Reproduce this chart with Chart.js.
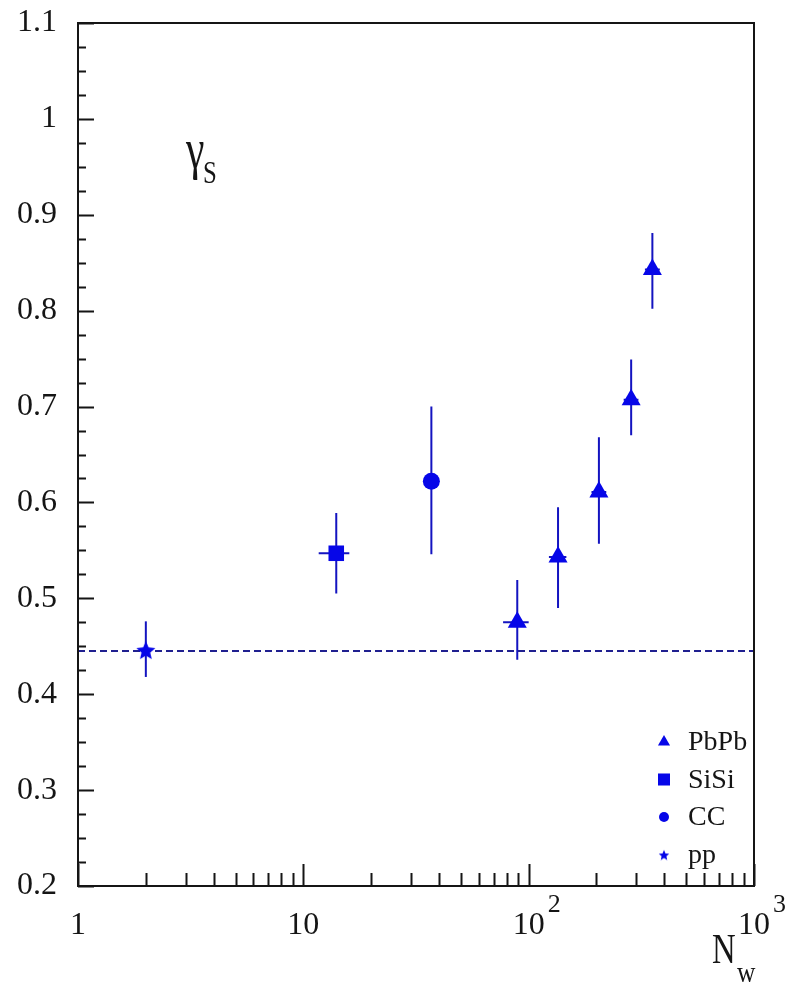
<!DOCTYPE html>
<html>
<head>
<meta charset="utf-8">
<script src="https://cdn.jsdelivr.net/npm/chart.js@4.4.1/dist/chart.umd.min.js"></script>
<style>
  html, body { margin: 0; padding: 0; background: #fff; }
  canvas { display: block; }
</style>
</head>
<body>
<canvas id="chart" width="787" height="984"></canvas>
<script>
// ---- data: strangeness suppression factor gamma_S vs. number of wounded nucleons N_w ----
const pbpbN      = [89, 135, 205, 285, 354];
const pbpbNLo    = [77, 123, 190, 264, 328];
const pbpbNHi    = [100, 147, 221, 307, 382];
const pbpbGamma  = [0.475, 0.543, 0.611, 0.707, 0.843];
const pbpbLo     = [0.436, 0.490, 0.557, 0.670, 0.802];
const pbpbHi     = [0.519, 0.595, 0.668, 0.749, 0.881];

const sisiN      = [14];
const sisiNLo    = [11.7];
const sisiNHi    = [16.0];
const sisiGamma  = [0.547];
const sisiLo     = [0.505];
const sisiHi     = [0.589];

const ccN        = [37];
const ccNLo      = [34];
const ccNHi      = [40];
const ccGamma    = [0.622];
const ccLo       = [0.546];
const ccHi       = [0.700];

const ppN        = [2];
const ppGamma    = [0.446];
const ppLo       = [0.418];
const ppHi       = [0.476];

// pp reference level, drawn across the full N_w range
const refLevel   = 0.445;
const refRangeN  = [1, 1000];

const seriesLabels = ['PbPb', 'SiSi', 'CC', 'pp'];

const yTickValues = [0.2, 0.3, 0.4, 0.5, 0.6, 0.7, 0.8, 0.9, 1.0, 1.1];
const yTickLabels = ['0.2', '0.3', '0.4', '0.5', '0.6', '0.7', '0.8', '0.9', '1', '1.1'];
const xTickValues = [1, 10, 100, 1000];
const xTickBase   = ['1', '10', '10', '10'];
const xTickExp    = ['', '', '2', '3'];

// ---- styling ----
const SERIF = '"Liberation Serif", "Times New Roman", Times, serif';
const MARK = '#0606e8';
const ERR = '#1414c0';
const REF = '#202090';
const INK = '#151515';

// filled five-pointed star used as a point style
function starCanvas(size, outer, inner) {
  const c = document.createElement('canvas');
  c.width = size; c.height = size;
  const g = c.getContext('2d');
  g.fillStyle = MARK;
  g.beginPath();
  for (let k = 0; k < 10; k++) {
    const r = k % 2 === 0 ? outer : inner;
    const a = -Math.PI / 2 + k * Math.PI / 5;
    const px = size / 2 + r * Math.cos(a);
    const py = size / 2 + 1 + r * Math.sin(a);
    if (k === 0) g.moveTo(px, py); else g.lineTo(px, py);
  }
  g.closePath();
  g.fill();
  return c;
}
const starBig = starCanvas(22, 10, 4.6);
const starSmall = starCanvas(12, 5.5, 2.5);

const zip = (xs, ys) => xs.map((x, i) => ({ x: x, y: ys[i] }));

const datasets = [
  { label: seriesLabels[0], data: zip(pbpbN, pbpbGamma), pointStyle: 'triangle', pointRadius: 11,
    yLo: pbpbLo, yHi: pbpbHi, xLo: pbpbNLo, xHi: pbpbNHi, legendRadius: 7 },
  { label: seriesLabels[1], data: zip(sisiN, sisiGamma), pointStyle: 'rect', pointRadius: 11,
    yLo: sisiLo, yHi: sisiHi, xLo: sisiNLo, xHi: sisiNHi, legendRadius: 8.5 },
  { label: seriesLabels[2], data: zip(ccN, ccGamma), pointStyle: 'circle', pointRadius: 8.5,
    yLo: ccLo, yHi: ccHi, xLo: ccNLo, xHi: ccNHi, legendRadius: 5 },
  { label: seriesLabels[3], data: zip(ppN, ppGamma), pointStyle: starBig, pointRadius: 10,
    yLo: ppLo, yHi: ppHi, legendStyle: starSmall, legendRadius: 6 }
].map(ds => Object.assign(ds, {
  type: 'scatter',
  backgroundColor: MARK,
  borderColor: MARK,
  borderWidth: 0,
  pointHoverRadius: ds.pointRadius
}));

datasets.push({
  type: 'line',
  label: 'reference',
  data: refRangeN.map(n => ({ x: n, y: refLevel })),
  borderColor: REF,
  borderWidth: 2,
  borderDash: [7, 4],
  pointRadius: 0,
  fill: false,
  inLegend: false
});

// vertical (and horizontal) error bars, drawn beneath the markers
const errorBars = {
  id: 'errorBars',
  beforeDatasetsDraw(chart) {
    const ctx = chart.ctx, xs = chart.scales.x, ys = chart.scales.y;
    ctx.save();
    ctx.strokeStyle = ERR;
    ctx.lineWidth = 2;
    chart.data.datasets.forEach(ds => {
      if (!ds.yLo) return;
      ds.data.forEach((p, i) => {
        const px = xs.getPixelForValue(p.x);
        const py = ys.getPixelForValue(p.y);
        ctx.beginPath();
        ctx.moveTo(px, ys.getPixelForValue(ds.yLo[i]));
        ctx.lineTo(px, ys.getPixelForValue(ds.yHi[i]));
        if (ds.xLo) {
          ctx.moveTo(xs.getPixelForValue(ds.xLo[i]), py);
          ctx.lineTo(xs.getPixelForValue(ds.xHi[i]), py);
        }
        ctx.stroke();
      });
    });
    ctx.restore();
  }
};

// frame, inward tick marks, exponents, axis / quantity labels and legend
const frameAndText = {
  id: 'frameAndText',
  afterDraw(chart) {
    const ctx = chart.ctx, a = chart.chartArea;
    const xs = chart.scales.x, ys = chart.scales.y;
    ctx.save();
    ctx.strokeStyle = INK;
    ctx.lineWidth = 2;
    ctx.strokeRect(a.left, a.top, a.right - a.left, a.bottom - a.top);

    ctx.beginPath();
    // y ticks: majors every 0.1, minors every 0.025
    for (let k = 0; k <= 36; k++) {
      const v = 0.2 + k * 0.025;
      const py = Math.round(ys.getPixelForValue(v)) + 0.5;
      const len = k % 4 === 0 ? 16 : 8;
      ctx.moveTo(a.left, py);
      ctx.lineTo(a.left + len, py);
    }
    // x ticks: decades and 2..9 within each decade
    for (let d = 0; d < 3; d++) {
      for (let m = 1; m <= 10; m++) {
        const v = m * Math.pow(10, d);
        const px = Math.round(xs.getPixelForValue(v)) + 0.5;
        const len = (m === 1 || m === 10) ? 22 : 13;
        ctx.moveTo(px, a.bottom);
        ctx.lineTo(px, a.bottom - len);
      }
    }
    ctx.stroke();

    ctx.fillStyle = INK;
    // exponents of the decade labels
    ctx.font = '26px ' + SERIF;
    ctx.textAlign = 'left';
    ctx.textBaseline = 'alphabetic';
    xTickValues.forEach((v, i) => {
      if (!xTickExp[i]) return;
      ctx.fillText(xTickExp[i], xs.getPixelForValue(v) + 19, a.bottom + 26);
    });

    // quantity label gamma_S
    ctx.save();
    ctx.translate(a.left + 108, a.top + 145);
    ctx.scale(0.72, 1);
    ctx.font = '58px ' + SERIF;
    ctx.fillText('\u03B3', 0, 0);
    ctx.restore();
    ctx.save();
    ctx.translate(a.left + 125, a.top + 160);
    ctx.scale(0.8, 1);
    ctx.font = '31px ' + SERIF;
    ctx.fillText('S', 0, 0);
    ctx.restore();

    // axis title N_w
    ctx.save();
    ctx.translate(a.right - 42, a.bottom + 77);
    ctx.scale(0.78, 1);
    ctx.font = '42px ' + SERIF;
    ctx.fillText('N', 0, 0);
    ctx.restore();
    ctx.save();
    ctx.translate(a.right - 17, a.bottom + 96);
    ctx.scale(0.85, 1);
    ctx.font = '30px ' + SERIF;
    ctx.fillText('w', 0, 0);
    ctx.restore();

    // legend
    const lx = a.right - 90, tx = a.right - 66;
    let base = a.bottom - 136;
    chart.data.datasets.forEach(ds => {
      if (ds.inLegend === false) return;
      const cy = base - 8;
      const style = ds.legendStyle || ds.pointStyle;
      ctx.fillStyle = MARK;
      ctx.strokeStyle = MARK;
      if (Chart.helpers && Chart.helpers.drawPoint) {
        Chart.helpers.drawPoint(ctx, { pointStyle: style, rotation: 0, radius: ds.legendRadius, borderWidth: 0 }, lx, cy);
      }
      ctx.fillStyle = INK;
      ctx.font = '28px ' + SERIF;
      ctx.fillText(ds.label, tx, base);
      base += 37.5;
    });
    ctx.restore();
  }
};

new Chart(document.getElementById('chart'), {
  type: 'scatter',
  data: { datasets: datasets },
  options: {
    responsive: false,
    animation: false,
    events: [],
    layout: { padding: { top: 23, right: 33, left: 0, bottom: 0 } },
    plugins: { legend: { display: false }, tooltip: { enabled: false } },
    scales: {
      x: {
        type: 'logarithmic',
        min: 1,
        max: 1000,
        grid: { display: false, drawTicks: false },
        border: { display: false },
        afterBuildTicks: (scale) => { scale.ticks = xTickValues.map(v => ({ value: v, major: true })); },
        afterFit: (scale) => {
          scale.height = 98;
          scale.paddingLeft = 0;
          scale.paddingRight = 0;
        },
        ticks: {
          autoSkip: false,
          maxRotation: 0,
          padding: 20,
          color: INK,
          font: { family: SERIF, size: 32 },
          callback: (v, i) => xTickBase[i]
        }
      },
      y: {
        type: 'linear',
        min: yTickValues[0],
        max: yTickValues[yTickValues.length - 1],
        grid: { display: false, drawTicks: false },
        border: { display: false },
        afterFit: (scale) => {
          scale.width = 78;
          scale.paddingTop = 0;
          scale.paddingBottom = 0;
        },
        ticks: {
          stepSize: 0.1,
          padding: 21,
          color: INK,
          font: { family: SERIF, size: 32 },
          callback: (v) => {
            const i = yTickValues.findIndex(t => Math.abs(t - v) < 1e-6);
            return i >= 0 ? yTickLabels[i] : '';
          }
        }
      }
    }
  },
  plugins: [errorBars, frameAndText]
});
</script>
</body>
</html>
